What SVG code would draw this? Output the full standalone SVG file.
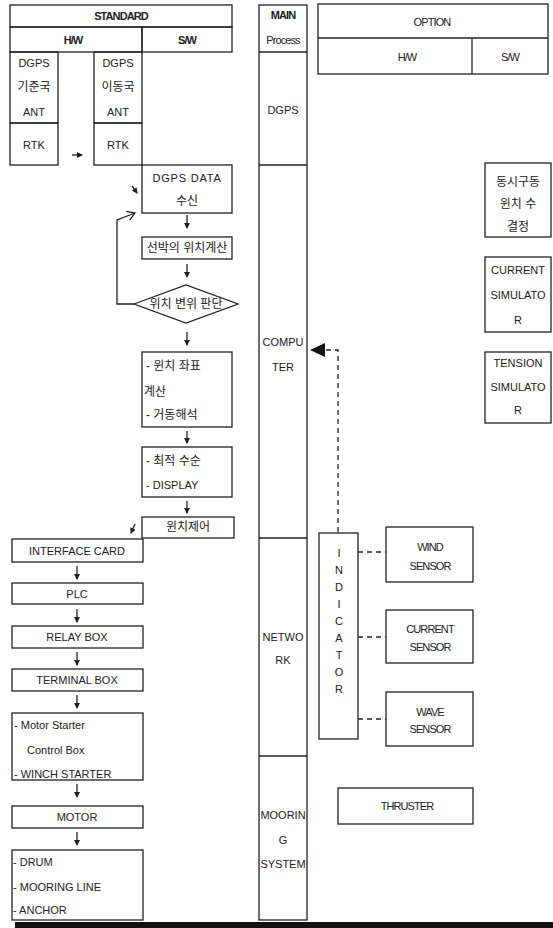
<svg xmlns="http://www.w3.org/2000/svg" width="553" height="928" viewBox="0 0 553 928">
<defs>
<marker id="ah" markerUnits="userSpaceOnUse" markerWidth="6" markerHeight="6" refX="5" refY="3" orient="auto"><path d="M0,0 L6,3 L0,6 Z" fill="#222"/></marker>
<marker id="open" markerUnits="userSpaceOnUse" markerWidth="9" markerHeight="10" refX="8" refY="5" orient="auto"><path d="M0,0 L8,5 L0,10" fill="none" stroke="#222" stroke-width="1.3"/></marker>
</defs>
<style>
rect{fill:none;stroke:#222;stroke-width:1.3}
line,path.c{stroke:#222;stroke-width:1.3;fill:none}
.d{stroke-dasharray:5,4}
text{font-family:"Liberation Sans","Noto Sans CJK KR",sans-serif;font-size:11px;fill:#222;dominant-baseline:central}
.m{text-anchor:middle}
.k{font-size:12px}
.n{letter-spacing:-0.9px}
.b{font-weight:bold}
</style>
<rect x="0" y="0" width="553" height="928" style="fill:#fff;stroke:none"/>

<g id="standard-header">
<rect x="10" y="5" width="222" height="22"/>
<text class="m b n" x="121" y="16">STANDARD</text>
<rect x="10" y="27" width="132" height="25"/>
<text class="m b n" x="73" y="40">H/W</text>
<rect x="142" y="27" width="90" height="25"/>
<text class="m b n" x="187" y="40">S/W</text>
</g>

<g id="dgps-base-ant"><rect x="10" y="52" width="48" height="71"/>
<text class="m" x="34" y="63">DGPS</text><text class="m k" x="34" y="87">기준국</text><text class="m" x="34" y="112">ANT</text></g>
<g id="rtk-base"><rect x="10" y="123" width="48" height="42"/><text class="m" x="34" y="145">RTK</text></g>
<g id="dgps-mobile-ant"><rect x="94" y="52" width="48" height="71"/>
<text class="m" x="118" y="63">DGPS</text><text class="m k" x="118" y="87">이동국</text><text class="m" x="118" y="112">ANT</text></g>
<g id="rtk-mobile"><rect x="94" y="123" width="48" height="42"/><text class="m" x="118" y="145">RTK</text></g>

<g id="dgps-data"><rect x="142" y="165" width="90" height="48"/>
<text class="m" x="187" y="178" style="letter-spacing:0.8px">DGPS DATA</text><text class="m k" x="187" y="201">수신</text></g>
<g id="position-calc"><rect x="142" y="237" width="90" height="22"/><text class="m k" x="187" y="248">선박의 위치계산</text></g>
<g id="displacement-decision"><path class="c" d="M134,304 L186,285 L238,304 L186,323 Z"/><text class="m k" x="186" y="304">위치 변위 판단</text></g>
<g id="winch-coord"><rect x="142" y="352" width="90" height="75"/>
<text class="k" x="146" y="366">- 윈치 좌표</text><text class="k" x="144" y="392">계산</text><text class="k" x="146" y="415">- 거동해석</text></g>
<g id="optimal-order"><rect x="142" y="447" width="90" height="50"/>
<text class="k" x="146" y="461">- 최적 수순</text><text x="146" y="485">- DISPLAY</text></g>
<g id="winch-control"><rect x="142" y="517" width="92" height="21"/><text class="m k" x="188" y="527">윈치제어</text></g>

<g id="interface-card"><rect x="12" y="539" width="131" height="23"/><text class="m" x="77" y="551">INTERFACE CARD</text></g>
<g id="plc"><rect x="12" y="583" width="131" height="21"/><text class="m" x="77" y="594">PLC</text></g>
<g id="relay-box"><rect x="12" y="626" width="131" height="22"/><text class="m" x="77" y="637">RELAY BOX</text></g>
<g id="terminal-box"><rect x="12" y="669" width="131" height="22"/><text class="m" x="77" y="680">TERMINAL BOX</text></g>
<g id="motor-starter"><rect x="12" y="713" width="131" height="67"/>
<text x="14" y="725">- Motor Starter</text><text x="27" y="750">Control Box</text><text x="14" y="774">- WINCH STARTER</text></g>
<g id="motor"><rect x="12" y="806" width="131" height="22"/><text class="m" x="77" y="817">MOTOR</text></g>
<g id="drum"><rect x="12" y="850" width="131" height="70"/>
<text x="13" y="862">- DRUM</text><text x="13" y="887">- MOORING LINE</text><text x="13" y="910">- ANCHOR</text></g>

<g id="main-process">
<rect x="259" y="5" width="48" height="915"/>
<line x1="259" y1="52" x2="307" y2="52"/>
<line x1="259" y1="165" x2="307" y2="165"/>
<line x1="259" y1="538" x2="307" y2="538"/>
<line x1="259" y1="756" x2="307" y2="756"/>
<text class="m b n" x="283" y="15">MAIN</text>
<text class="m n" x="283" y="40">Process</text>
<text class="m" x="283" y="110">DGPS</text>
<text class="m" x="283" y="342">COMPU</text><text class="m" x="283" y="367">TER</text>
<text class="m" x="283" y="637">NETWO</text><text class="m" x="283" y="660">RK</text>
<text class="m" x="283" y="815">MOORIN</text><text class="m" x="283" y="840">G</text><text class="m" x="283" y="864">SYSTEM</text>
</g>

<g id="option-header">
<rect x="318" y="4" width="230" height="70"/>
<line x1="318" y1="38" x2="548" y2="38"/>
<line x1="472" y1="38" x2="472" y2="74"/>
<text class="m n" x="432" y="22">OPTION</text>
<text class="m n" x="407" y="57">H/W</text>
<text class="m n" x="510" y="57">S/W</text>
</g>

<g id="simultaneous-winch"><rect x="485" y="163" width="66" height="74"/>
<text class="m k" x="518" y="182">동시구동</text><text class="m k" x="518" y="204">윈치 수</text><text class="m k" x="518" y="227">결정</text></g>
<g id="current-simulator"><rect x="485" y="257" width="66" height="75"/>
<text class="m" x="518" y="270">CURRENT</text><text class="m" x="518" y="295">SIMULATO</text><text class="m" x="518" y="320">R</text></g>
<g id="tension-simulator"><rect x="485" y="352" width="66" height="71"/>
<text class="m" x="518" y="363">TENSION</text><text class="m" x="518" y="387">SIMULATO</text><text class="m" x="518" y="410">R</text></g>

<g id="indicator"><rect x="319" y="533" width="39" height="206"/>
<text class="m" x="339" y="553">I</text><text class="m" x="339" y="570">N</text><text class="m" x="339" y="587">D</text>
<text class="m" x="339" y="604">I</text><text class="m" x="339" y="621">C</text><text class="m" x="339" y="638">A</text>
<text class="m" x="339" y="655">T</text><text class="m" x="339" y="672">O</text><text class="m" x="339" y="689">R</text></g>
<g id="wind-sensor"><rect x="386" y="527" width="87" height="55"/>
<text class="m n" x="430" y="547">WIND</text><text class="m n" x="430" y="566">SENSOR</text></g>
<g id="current-sensor"><rect x="386" y="610" width="87" height="53"/>
<text class="m n" x="430" y="629">CURRENT</text><text class="m n" x="430" y="647">SENSOR</text></g>
<g id="wave-sensor"><rect x="386" y="692" width="87" height="54"/>
<text class="m n" x="430" y="712">WAVE</text><text class="m n" x="430" y="729">SENSOR</text></g>
<g id="thruster"><rect x="338" y="788" width="135" height="36"/><text class="m n" x="407" y="806">THRUSTER</text></g>

<g id="connectors">
<line x1="72" y1="155" x2="82" y2="155" marker-end="url(#ah)"/>
<line x1="132" y1="186" x2="137" y2="193" marker-end="url(#ah)"/>
<line x1="187" y1="215" x2="187" y2="228" marker-end="url(#ah)"/>
<line x1="187" y1="264" x2="187" y2="277" marker-end="url(#ah)"/>
<path class="c" d="M134,304 L117,304 L117,220 L135,213" marker-end="url(#open)"/>
<line x1="187" y1="332" x2="187" y2="345" marker-end="url(#ah)"/>
<line x1="187" y1="431" x2="187" y2="443" marker-end="url(#ah)"/>
<line x1="187" y1="501" x2="187" y2="513" marker-end="url(#ah)"/>
<line x1="135" y1="524" x2="131" y2="533" marker-end="url(#ah)"/>
<line x1="77" y1="566" x2="77" y2="579" marker-end="url(#ah)"/>
<line x1="77" y1="609" x2="77" y2="622" marker-end="url(#ah)"/>
<line x1="77" y1="652" x2="77" y2="665" marker-end="url(#ah)"/>
<line x1="77" y1="695" x2="77" y2="708" marker-end="url(#ah)"/>
<line x1="77" y1="784" x2="77" y2="797" marker-end="url(#ah)"/>
<line x1="77" y1="832" x2="77" y2="845" marker-end="url(#ah)"/>
<path class="c d" d="M338,532 L338,350 L324,350"/>
<path d="M310,350 L325,343 L325,357 Z" fill="#111"/>
<line class="d" x1="358" y1="552" x2="386" y2="552"/>
<line class="d" x1="358" y1="637" x2="386" y2="637"/>
<line class="d" x1="358" y1="719" x2="386" y2="719"/>
</g>
<rect x="15" y="922" width="538" height="6" style="fill:#111;stroke:none"/>
</svg>
